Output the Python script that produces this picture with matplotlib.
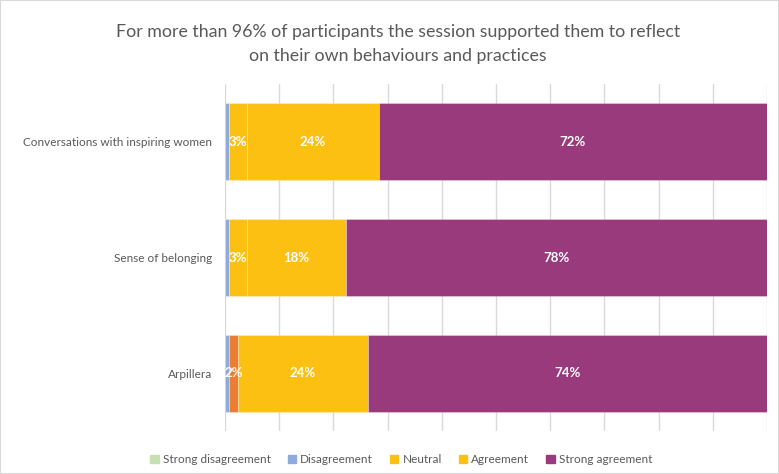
import numpy as np
import matplotlib
matplotlib.use('Agg')
import matplotlib.pyplot as plt
from matplotlib.patches import Rectangle

plt.rcParams['font.family'] = ['Lato', 'DejaVu Sans']

CATEGORIES = ['Conversations with inspiring women', 'Sense of belonging', 'Arpillera']
SERIES = ['Strong disagreement', 'Disagreement', 'Neutral', 'Agreement', 'Strong agreement']

# share of answers per session (%)
STRONG_DISAGREE = [0.0, 0.0, 0.0]
DISAGREE        = [0.7, 0.7, 0.7]
NEUTRAL         = [3.3, 3.3, 1.7]
AGREE           = [24.4, 18.4, 24.0]
STRONG_AGREE    = [71.6, 77.6, 73.6]

TITLE = ('For more than 96% of participants the session supported them to reflect\n'
         'on their own behaviours and practices')

COLORS = ['#C5E0B4', '#8FAADC', '#FBC012', '#FBC012', '#993A7D']
NEUTRAL_COLORS = ['#FBC012', '#FBC012', '#ED7D31']   # Arpillera neutral drawn in orange
SHOW_LABEL = [False, False, True, True, True]
TEXT_GRAY = '#595959'

fig = plt.figure(figsize=(7.79, 4.74), dpi=100)
ax = fig.add_axes([0.2888, 0.0907, 0.6958, 0.7321])

data = np.array([STRONG_DISAGREE, DISAGREE, NEUTRAL, AGREE, STRONG_AGREE]) / 100
y = np.arange(len(CATEGORIES))
left = np.zeros(len(CATEGORIES))
for k, name in enumerate(SERIES):
    vals = data[k]
    cols = NEUTRAL_COLORS if name == 'Neutral' else [COLORS[k]] * len(CATEGORIES)
    ax.barh(y, vals, left=left, height=0.665, color=cols,
            edgecolor=(1, 1, 1, 0.35), linewidth=0.6, label=name, zorder=3)
    if SHOW_LABEL[k]:
        for i, v in enumerate(vals):
            if v > 0:
                ax.text(left[i] + v / 2, y[i], f'{v * 100:.0f}%', ha='center', va='center',
                        color='white', fontsize=9.5, fontweight='bold', zorder=4)
    left += vals

ax.set_xlim(0, 1)
ax.set_ylim(2.5, -0.5)
ax.set_xticks(np.arange(0, 1.01, 0.1))
ax.set_xticklabels([])
ax.tick_params(axis='both', length=0)
ax.set_yticks(y)
ax.set_yticklabels(CATEGORIES, fontsize=8.5, color=TEXT_GRAY)
ax.tick_params(axis='y', pad=9)
ax.grid(axis='x', color='#D9D9D9', linewidth=1, zorder=0)
for s in ax.spines.values():
    s.set_visible(False)

fig.suptitle(TITLE, x=0.511, y=0.95, fontsize=12.8, color=TEXT_GRAY, linespacing=1.6)

handles = [Rectangle((0, 0), 1, 1, color=c) for c in COLORS]
fig.legend(handles, SERIES, loc='center', bbox_to_anchor=(0.515, 0.031), ncol=5,
           frameon=False, fontsize=8.5, labelcolor=TEXT_GRAY, handlelength=0.7,
           handleheight=0.7, handletextpad=0.35, columnspacing=1.45)

fig.patches.append(Rectangle((0, 0), 1, 1, transform=fig.transFigure, fill=False,
                             edgecolor='#D9D9D9', linewidth=1.5))

fig.savefig('out.png', dpi=100)
